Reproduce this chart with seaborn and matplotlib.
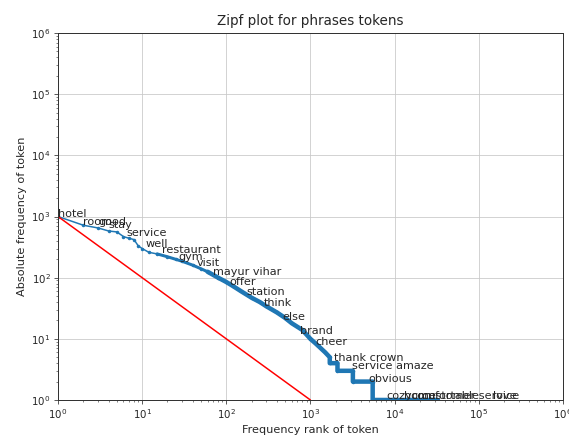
import pandas as pd
import matplotlib
matplotlib.use("Agg")
import matplotlib.pyplot as plt
import seaborn as sns

# rank / frequency
ranks = [1, 2, 3, 4, 5, 6, 7, 8, 9, 10, 12, 15, 20, 25, 30, 40, 50, 60, 80,
         100, 120, 150, 200, 250, 300, 400, 500, 600, 800, 1000, 1200, 1500,
         1700, 1700, 2100, 2100, 3200, 3200, 5500, 5500, 32500]
freqs = [1000, 720, 650, 580, 560, 470, 440, 420, 330, 300, 260, 245, 220, 200,
         185, 160, 140, 125, 100, 85, 73, 60, 47, 40, 34, 27, 22, 18, 14, 10,
         8, 6, 5, 4, 4, 3, 3, 2, 2, 1, 1]

# ideal zipf line
zipf_x = [1, 1000]
zipf_y = [1000, 1]

# annotated tokens
words = ["hotel", "room", "good", "stay", "service", "well", "restaurant", "gym",
         "visit", "mayur vihar", "offer", "station", "think", "else", "brand",
         "cheer", "thank crown", "service amaze", "obvious", "cozy", "home",
         "comfortable", "customer service", "love"]
word_ranks = [1, 2, 3, 4, 6.5, 11, 17, 27, 44, 70, 110, 175, 280, 460, 745,
              1160, 1900, 3100, 4950, 8100, 13000, 16000, 21000, 150000]
word_freqs = [1000, 740, 720, 640, 480, 320, 250, 195, 155, 110, 76, 52, 34, 20,
              12, 8, 4.4, 3.2, 2, 1.05, 1.05, 1.05, 1.05, 1.05]

df = pd.DataFrame({"rank": ranks, "freq": freqs})

sns.set_style("whitegrid")
plt.rcParams["font.family"] = ["DejaVu Sans"]

fig = plt.figure(figsize=(569 / 72, 441 / 72), dpi=72)
ax = fig.add_axes([0.102, 0.093, 0.887, 0.832])

blue = "#1f77b4"
sns.lineplot(data=df, x="rank", y="freq", ax=ax, color=blue, lw=1.5,
             marker=".", markersize=7, markeredgewidth=0, sort=False,
             estimator=None)
# the dots get dense further down the curve, so the band thickens
mid = df[df["rank"] >= 15]
ax.plot(mid["rank"], mid["freq"], color=blue, lw=3)
thick = df[df["rank"] >= 60]
ax.plot(thick["rank"], thick["freq"], color=blue, lw=4.5)
sns.lineplot(x=zipf_x, y=zipf_y, ax=ax, color="red", lw=1.5)

for w, r, f in zip(words, word_ranks, word_freqs):
    ax.annotate(w, (r, f), fontsize=11.2, color="#262626")

ax.set_xscale("log")
ax.set_yscale("log")
ax.set_xlim(1, 1e6)
ax.set_ylim(1, 1e6)
ax.set_title("Zipf plot for phrases tokens", fontsize=13.5, color="#262626", pad=8)
ax.set_xlabel("Frequency rank of token", fontsize=11.3, color="#262626")
ax.set_ylabel("Absolute frequency of token", fontsize=11.3, color="#262626")
ax.grid(True, which="major", color="#c8c8c8", lw=0.8)
ax.grid(False, which="minor")
for s in ax.spines.values():
    s.set_color("#333333")
    s.set_linewidth(1)
ax.tick_params(which="both", direction="out", color="#333333",
               labelsize=10.3, labelcolor="#262626")
ax.tick_params(which="major", length=4, bottom=True, left=True)
ax.tick_params(which="minor", length=2, bottom=True, left=True)

fig.savefig("out.png", dpi=72)
